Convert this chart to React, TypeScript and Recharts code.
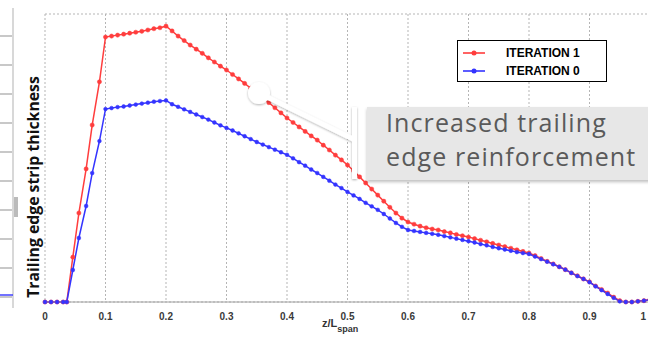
import React from "react";
import { LineChart, Line, XAxis, YAxis, CartesianGrid, Legend } from "recharts";

// spanwise position z/L_span
const zPos = [
  0, 0.01, 0.02, 0.03, 0.036, 0.046, 0.056, 0.068, 0.078, 0.09,
  0.1, 0.11, 0.12, 0.13, 0.14, 0.15, 0.16, 0.17, 0.18, 0.19,
  0.2, 0.21, 0.22, 0.23, 0.24, 0.25, 0.26, 0.27, 0.28, 0.29,
  0.3, 0.31, 0.32, 0.33, 0.34, 0.35, 0.36, 0.37, 0.38, 0.39,
  0.4, 0.41, 0.42, 0.43, 0.44, 0.45, 0.46, 0.47, 0.48, 0.49,
  0.5, 0.51, 0.52, 0.53, 0.54, 0.55, 0.56, 0.57, 0.58, 0.59,
  0.6, 0.61, 0.62, 0.63, 0.64, 0.65, 0.66, 0.67, 0.68, 0.69,
  0.7, 0.71, 0.72, 0.73, 0.74, 0.75, 0.76, 0.77, 0.78, 0.79,
  0.8, 0.81, 0.82, 0.83, 0.84, 0.85, 0.86, 0.87, 0.88, 0.89,
  0.9, 0.91, 0.92, 0.93, 0.94, 0.95, 0.96, 0.97, 0.98, 0.99,
  1.0,
];

// strip thickness (grid units), iteration 1
const iteration1 = [
  0, 0, 0, 0, 0, 1.4, 2.78, 4.16, 5.53, 6.88,
  8.28, 8.31, 8.34, 8.37, 8.4, 8.43, 8.46, 8.5, 8.54, 8.57,
  8.62, 8.47, 8.31, 8.17, 8.03, 7.9, 7.77, 7.63, 7.5, 7.37,
  7.25, 7.11, 6.97, 6.83, 6.68, 6.53, 6.38, 6.23, 6.07, 5.91,
  5.75, 5.61, 5.47, 5.33, 5.19, 5.06, 4.9, 4.75, 4.59, 4.44,
  4.28, 4.1, 3.91, 3.72, 3.53, 3.34, 3.15, 2.96, 2.78, 2.62,
  2.5, 2.43, 2.37, 2.32, 2.28, 2.25, 2.2, 2.16, 2.11, 2.07,
  2.03, 1.98, 1.93, 1.88, 1.83, 1.78, 1.73, 1.68, 1.63, 1.58,
  1.53, 1.45, 1.36, 1.27, 1.19, 1.1, 1.01, 0.91, 0.82, 0.72,
  0.63, 0.5, 0.39, 0.28, 0.15, 0.04, 0, 0, 0.02, 0.04,
  0.08,
];

// strip thickness (grid units), iteration 0
const iteration0 = [
  0, 0, 0, 0, 0, 1.0, 2.0, 3.0, 4.03, 5.03,
  6.03, 6.06, 6.09, 6.11, 6.14, 6.17, 6.2, 6.23, 6.26, 6.28,
  6.3, 6.18, 6.1, 6.02, 5.94, 5.86, 5.78, 5.7, 5.61, 5.52,
  5.44, 5.36, 5.27, 5.18, 5.09, 5.0, 4.92, 4.84, 4.76, 4.68,
  4.6, 4.49, 4.37, 4.26, 4.14, 4.03, 3.91, 3.79, 3.67, 3.56,
  3.44, 3.33, 3.22, 3.1, 2.99, 2.88, 2.75, 2.61, 2.47, 2.35,
  2.25, 2.22, 2.19, 2.16, 2.13, 2.1, 2.06, 2.02, 1.98, 1.94,
  1.9, 1.86, 1.81, 1.77, 1.72, 1.68, 1.64, 1.6, 1.56, 1.53,
  1.5, 1.42, 1.34, 1.26, 1.18, 1.1, 1.01, 0.91, 0.81, 0.72,
  0.62, 0.49, 0.37, 0.25, 0.13, 0.02, 0, 0, 0.02, 0.04,
  0.07,
];

const xTicks = [0, 0.1, 0.2, 0.3, 0.4, 0.5, 0.6, 0.7, 0.8, 0.9, 1];
const xTickLabels = ["0", "0.1", "0.2", "0.3", "0.4", "0.5", "0.6", "0.7", "0.8", "0.9", "1"];
const yTicks = [0, 1, 2, 3, 4, 5, 6, 7, 8, 9];

const RED = "#ff3d3d";
const BLUE = "#3434ff";

const seriesNames = ["ITERATION 1", "ITERATION 0"];
const seriesColors = [RED, BLUE];

const data = zPos.map((z, i) => ({ z, it1: iteration1[i], it0: iteration0[i] }));

function XTick(props: any) {
  const { x, y, payload, index } = props;
  const last = index === xTicks.length - 1;
  return (
    <text
      x={x}
      y={y}
      dx={last ? -4 : 0}
      dy={9}
      textAnchor={last ? "end" : "middle"}
      fontSize={10}
      fontWeight="bold"
      fill="#3a3a3a"
      fontFamily="'Liberation Sans', Arial, sans-serif"
    >
      {xTickLabels[xTicks.indexOf(payload.value)] ?? String(payload.value)}
    </text>
  );
}

function LegendBox() {
  return (
    <div
      style={{
        width: 150,
        height: 42,
        border: "1px solid #000",
        background: "#fff",
        fontFamily: "'Liberation Sans', Arial, sans-serif",
        fontWeight: "bold",
        fontSize: 12,
        color: "#000",
        paddingTop: 3,
        boxSizing: "border-box",
      }}
    >
      {seriesNames.map((name, i) => (
        <div key={name} style={{ display: "flex", alignItems: "center", height: 18 }}>
          <svg width={40} height={10} style={{ marginLeft: 4 }}>
            <line x1={1} y1={5} x2={23} y2={5} stroke={seriesColors[i]} strokeWidth={2} opacity={0.8} />
            <circle cx={12} cy={5} r={2.5} fill={seriesColors[i]} />
          </svg>
          <span style={{ marginLeft: 4 }}>{name}</span>
        </div>
      ))}
    </div>
  );
}

export default function App() {
  return (
    <div
      style={{
        position: "absolute",
        left: 0,
        top: 0,
        width: 648,
        height: 341,
        overflow: "hidden",
        background: "#fff",
      }}
    >
      {/* edge of the neighbouring figure */}
      <div
        style={{
          position: "absolute",
          left: 0,
          top: 8,
          width: 12,
          height: 300,
          borderRight: "2px solid #d8d8d8",
          backgroundImage: "repeating-linear-gradient(to bottom, #fff 0px, #fff 27px, #c8c8c8 27px, #c8c8c8 29px)",
        }}
      />
      <div style={{ position: "absolute", left: 0, top: 294, width: 13, height: 2, background: BLUE, opacity: 0.7 }} />
      <div style={{ position: "absolute", left: 14, top: 197, width: 4, height: 20, background: "#bbb" }} />

      <div style={{ position: "absolute", left: 0, top: 0 }}>
        <LineChart width={660} height={341} data={data} margin={{ top: 14, right: 10, left: 45, bottom: 9 }}>
          <CartesianGrid stroke="#b5b5b5" strokeDasharray="2 2" />
          <XAxis
            dataKey="z"
            type="number"
            domain={[0, 1]}
            ticks={xTicks}
            tickLine={false}
            axisLine={{ stroke: "#a0a0a0" }}
            tickMargin={3}
            height={30}
            tick={<XTick />}
            interval={0}
          />
          <YAxis
            type="number"
            domain={[0, 9]}
            ticks={yTicks}
            width={0}
            tick={false}
            tickLine={false}
            axisLine={false}
          />
          <Legend
            layout="horizontal"
            verticalAlign="middle"
            align="center"
            wrapperStyle={{ left: 457, top: 40, width: 150 }}
            content={() => <LegendBox />}
          />
          <Line
            dataKey="it1"
            name="ITERATION 1"
            stroke={RED}
            strokeWidth={1.5}
            dot={{ r: 2.1, fill: RED, stroke: RED, strokeWidth: 0.5 }}
            isAnimationActive={false}
          />
          <Line
            dataKey="it0"
            name="ITERATION 0"
            stroke={BLUE}
            strokeWidth={1.5}
            dot={{ r: 1.9, fill: BLUE, stroke: BLUE, strokeWidth: 0.5 }}
            isAnimationActive={false}
          />
        </LineChart>
      </div>

      {/* y axis title */}
      <div
        style={{
          position: "absolute",
          left: 33,
          top: 187,
          transform: "translate(-50%, -50%) rotate(-90deg)",
          whiteSpace: "nowrap",
          fontFamily: "'Open Sans', sans-serif",
          fontWeight: "bold",
          fontSize: 15.8,
          color: "#111",
        }}
      >
        Trailing edge strip thickness
      </div>

      {/* x axis title */}
      <div
        style={{
          position: "absolute",
          left: 322,
          top: 317,
          whiteSpace: "nowrap",
          fontFamily: "'Liberation Sans', Arial, sans-serif",
          fontWeight: "bold",
          fontSize: 11,
          color: "#333",
        }}
      >
        z/L<span style={{ fontSize: 9, position: "relative", top: 5 }}>span</span>
      </div>

      {/* callout */}
      <svg width={648} height={341} style={{ position: "absolute", left: 0, top: 0, pointerEvents: "none" }}>
        <defs>
          <filter id="sh" x="-50%" y="-50%" width="200%" height="200%">
            <feDropShadow dx={0} dy={1} stdDeviation={1.2} floodColor="#000" floodOpacity={0.3} />
          </filter>
        </defs>
        <g filter="url(#sh)">
          <line x1={259} y1={93} x2={355} y2={140} stroke="#fff" strokeWidth={5} />
          <rect x={352} y={107} width={5} height={72} fill="#fff" />
          <circle cx={259} cy={93} r={11} fill="#fff" />
        </g>
      </svg>
      <div
        style={{
          position: "absolute",
          left: 367,
          top: 107,
          width: 300,
          height: 73,
          background: "#e7e7e7",
          boxShadow: "0 2px 3px rgba(0,0,0,0.25)",
          fontFamily: "'Open Sans', sans-serif",
          fontSize: 25,
          letterSpacing: 1.1,
          lineHeight: "34px",
          color: "#5a5a5a",
          paddingLeft: 19,
          boxSizing: "border-box",
        }}
      >
        <div style={{ marginTop: -2 }}>
          Increased trailing
          <br />
          edge reinforcement
        </div>
      </div>
    </div>
  );
}
